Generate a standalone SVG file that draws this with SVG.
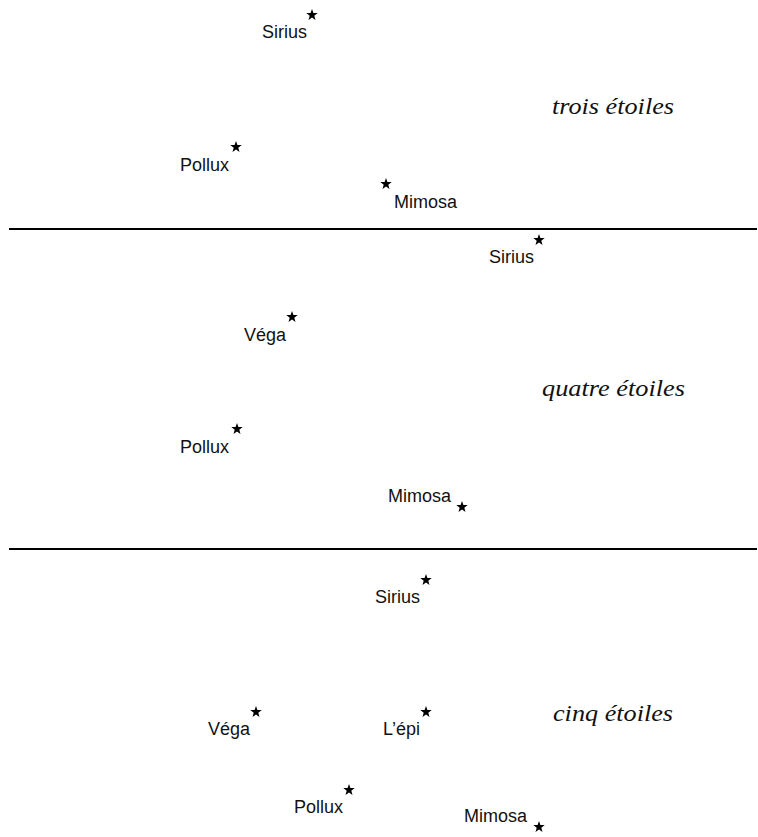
<svg xmlns="http://www.w3.org/2000/svg" xmlns:xlink="http://www.w3.org/1999/xlink" width="758" height="837" viewBox="0 0 758 837">
  <style>
    .lbl { font-family: "Liberation Sans", Arial, sans-serif; font-size: 18px; fill: #111; }
    .end { text-anchor: end; }
    .title { font-family: "Liberation Serif", "Times New Roman", serif; font-style: italic; font-size: 24px; fill: #111; }
    .rule { stroke: #000; stroke-width: 2; }
  </style>
  <defs>
    <!-- five-pointed star marker, centred on the origin -->
    <polygon id="star" points="0,-6 1.4,-2 5.7,-1.9 2.3,0.7 3.5,4.9 0,2.5 -3.5,4.9 -2.3,0.7 -5.7,-1.9 -1.4,-2" fill="#000"/>
  </defs>
  <rect width="758" height="837" fill="#fff"/>

  <!-- separators between the three panels -->
  <g id="rules">
    <line class="rule" x1="9" y1="229" x2="757" y2="229"/>
    <line class="rule" x1="9" y1="549" x2="757" y2="549"/>
  </g>

  <!-- panel 1: three stars -->
  <g id="panel1">
    <text class="title" x="552" y="114" textLength="122" lengthAdjust="spacingAndGlyphs">trois étoiles</text>
    <g id="p1-sirius"><use xlink:href="#star" x="312" y="15"/><text class="lbl end" x="307" y="38">Sirius</text></g>
    <g id="p1-pollux"><use xlink:href="#star" x="236" y="147"/><text class="lbl end" x="229" y="171">Pollux</text></g>
    <g id="p1-mimosa"><use xlink:href="#star" x="386" y="184"/><text class="lbl" x="394" y="208">Mimosa</text></g>
  </g>

  <!-- panel 2: four stars -->
  <g id="panel2">
    <text class="title" x="542" y="396" textLength="143" lengthAdjust="spacingAndGlyphs">quatre étoiles</text>
    <g id="p2-sirius"><use xlink:href="#star" x="539" y="240"/><text class="lbl end" x="534" y="263">Sirius</text></g>
    <g id="p2-vega"><use xlink:href="#star" x="292" y="317"/><text class="lbl end" x="286" y="341">Véga</text></g>
    <g id="p2-pollux"><use xlink:href="#star" x="237" y="429"/><text class="lbl end" x="229" y="453">Pollux</text></g>
    <g id="p2-mimosa"><use xlink:href="#star" x="462" y="507"/><text class="lbl end" x="451" y="502">Mimosa</text></g>
  </g>

  <!-- panel 3: five stars -->
  <g id="panel3">
    <text class="title" x="553" y="721" textLength="120" lengthAdjust="spacingAndGlyphs">cinq étoiles</text>
    <g id="p3-sirius"><use xlink:href="#star" x="426" y="580"/><text class="lbl end" x="420" y="603">Sirius</text></g>
    <g id="p3-vega"><use xlink:href="#star" x="256" y="712"/><text class="lbl end" x="250" y="735">Véga</text></g>
    <g id="p3-lepi"><use xlink:href="#star" x="426" y="712"/><text class="lbl end" x="420" y="735">L’épi</text></g>
    <g id="p3-pollux"><use xlink:href="#star" x="349" y="790"/><text class="lbl end" x="343" y="813">Pollux</text></g>
    <g id="p3-mimosa"><use xlink:href="#star" x="539" y="827"/><text class="lbl end" x="527" y="822">Mimosa</text></g>
  </g>
</svg>
